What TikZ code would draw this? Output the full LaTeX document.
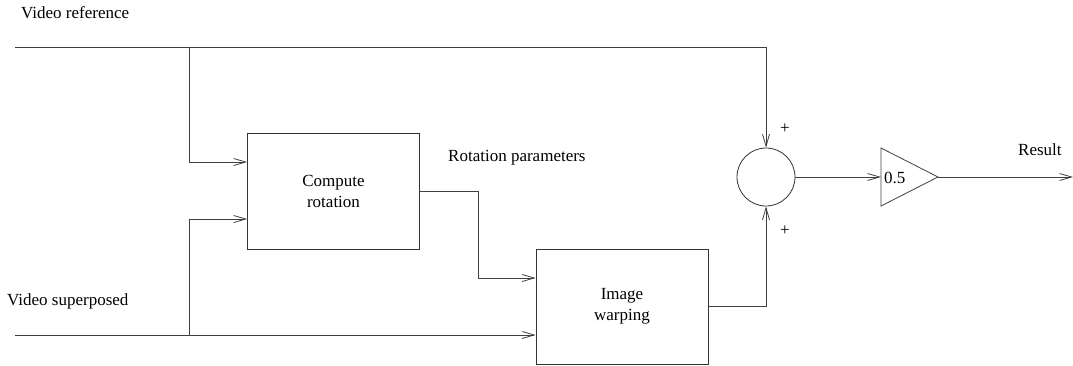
\documentclass[tikz,border=0pt]{standalone}
\usepackage{fontspec}
\setmainfont{Liberation Serif}
\usetikzlibrary{arrows.meta}
\begin{document}
\begin{tikzpicture}[x=1pt,y=-1pt,
  every node/.style={font=\fontsize{17}{21}\selectfont},
  blockbox/.style={draw=black!80,line width=0.8pt,minimum width=172pt,minimum height=116pt,inner sep=0pt,align=center},
  sumnode/.style={draw=black!80,circle,line width=0.8pt,minimum size=58pt,inner sep=0pt},
  lbl/.style={inner sep=0pt,anchor=west},
  wire/.style={draw=black!75,line width=0.8pt},
  arr/.style={wire,-{Straight Barb[length=12pt,width=7pt]}}]
\useasboundingbox (0,0) rectangle (1073,365);
% blocks
\node[blockbox] (comp) at (333.5,191) {Compute\\rotation};
\node[blockbox,minimum height=115pt] (warp) at (622,306.5) {Image\\warping};
\node[sumnode] (sum) at (766,177) {};
% amplifier triangle
\coordinate (ampin) at (881,177);
\coordinate (ampapex) at (938,177);
\draw[wire] (881,148) -- (ampapex) -- (881,206) -- cycle;
\node[lbl] (gain) at (884,178) {0.5};
% free ends
\coordinate (vin) at (15,47);
\coordinate (b1) at (189,47);
\coordinate (sin) at (15,335);
\coordinate (b2) at (189,335);
\coordinate (out) at (1073,177);
% labels
\node[lbl] (tref) at (21,13) {Video reference};
\node[lbl] (tsup) at (7,301) {Video superposed};
\node[lbl] (trot) at (448,158) {Rotation parameters};
\node[lbl] (tres) at (1018,150) {Result};
\node[lbl] (p1) at (780,129) {+};
\node[lbl] (p2) at (780,231) {+};
% connectors
\draw[arr] (vin) -| (sum.north);
\draw[arr] (b1) |- ([yshift=29pt]comp.west);
\draw[arr] (b2) |- ([yshift=-28pt]comp.west);
\draw[arr] (sin) -- (sin -| warp.west);
\draw[arr] (comp.east) -- ++(58,0) |- ([yshift=28.5pt]warp.west);
\draw[arr] (warp.east) -| (sum.south);
\draw[arr] (sum.east) -- (ampin);
\draw[arr] (ampapex) -- (out);
\end{tikzpicture}
\end{document}
